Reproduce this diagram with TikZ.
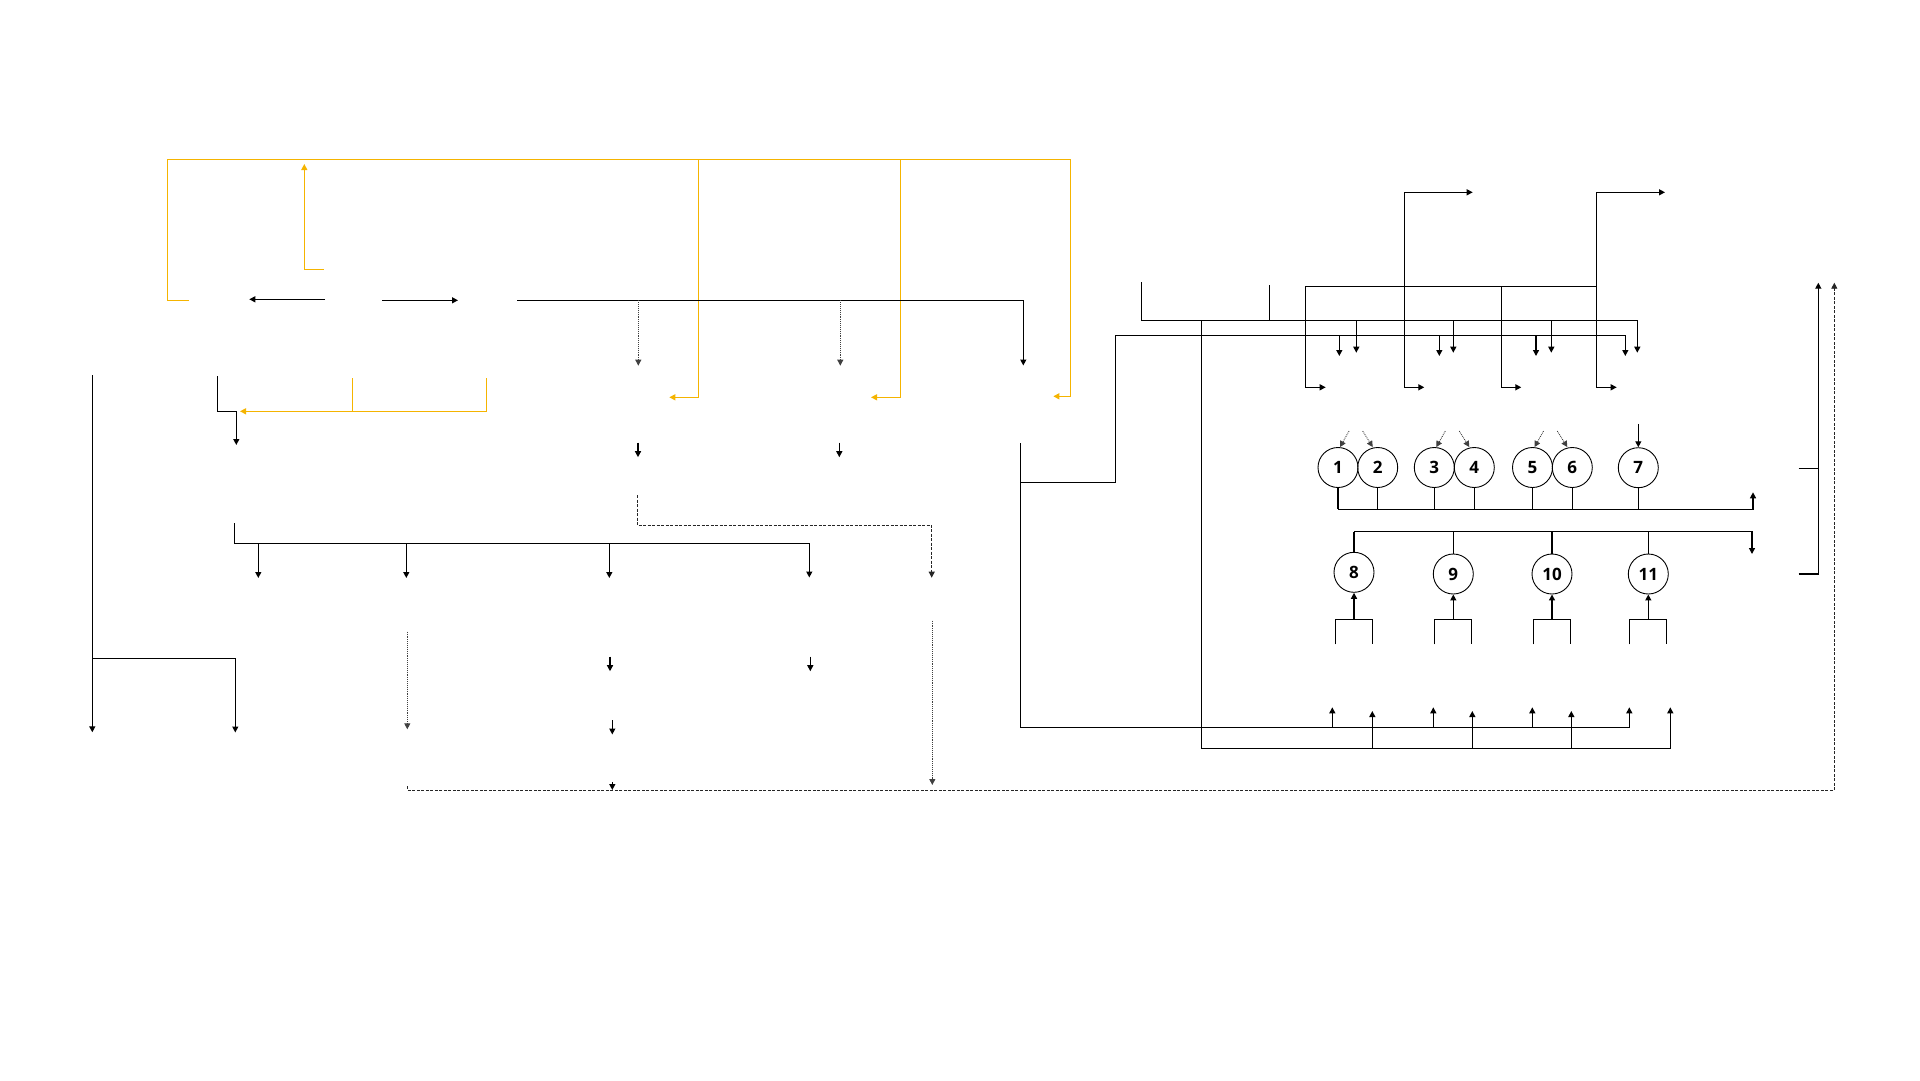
\documentclass[tikz,border=0pt]{standalone}
\usepackage{fontspec}
\setmainfont{Open Sans}
\usepackage{tikz}
\usetikzlibrary{arrows.meta}
\definecolor{loopamber}{HTML}{F5B400}

\begin{document}
\begin{tikzpicture}[x=1pt, y=-1pt, >={Triangle[length=6pt,width=6pt]},
    flow/.style={black, line width=1.3pt},
    ret/.style={loopamber, line width=1.3pt},
    faint/.style={black!75, line width=0.9pt, densely dotted},
    dashline/.style={black!85, line width=0.9pt, dash pattern=on 3pt off 1.5pt},
    unit/.style={circle, draw, line width=0.9pt, minimum size=40pt, inner sep=0pt,
        font=\fontsize{17}{17}\selectfont\bfseries}]
    \useasboundingbox (0,0) rectangle (1920,1080);

    % Return loop (amber)
    \draw[ret,->] (189,300.3) -- (167.3,300.3) -- (167.3,159.3) -- (1070.3,159.3)
        -- (1070.3,396.3) -- (1053.3,396.3);
    \draw[ret,->] (698.3,159.3) -- (698.3,397.3) -- (669.3,397.3);
    \draw[ret,->] (900.3,159.3) -- (900.3,397.3) -- (871,397.3);
    \draw[ret,->] (324,269.3) -- (304.3,269.3) -- (304.3,164);
    \draw[ret,->] (486.3,378) -- (486.3,411.3) -- (240,411.3);
    \draw[ret] (352.3,378) -- (352.3,411.3);

    % Top row
    \draw[flow,->] (325,299.3) -- (249.3,299.3);
    \draw[flow,->] (382,300.3) -- (458,300.3);
    \draw[flow,->] (517,300.3) -- (1023.3,300.3) -- (1023.3,365.5);
    \draw[faint,->] (638.3,300.3) -- (638.3,365.7);
    \draw[faint,->] (840.3,300.3) -- (840.3,365.7);

    % Left column
    \draw[flow,->] (217.3,376) -- (217.3,411.3) -- (236.3,411.3) -- (236.3,445);
    \draw[flow,->] (92.3,375) -- (92.3,732.3);
    \draw[flow,->] (92.3,658.3) -- (235.3,658.3) -- (235.3,732.5);

    % Middle bus
    \draw[flow,->] (234.3,523) -- (234.3,543.5) -- (809.3,543.5) -- (809.3,577.5);
    \foreach \x in {258.3,406.3,609.3}
        \draw[flow,->] (\x,543.5) -- (\x,578);
    \foreach \x/\y in {638/442.7, 839.3/442.7, 610/656.7, 810.3/656.7, 612.3/720}
        \draw[flow,->] (\x,\y) -- ++(0,14.5);
    \draw[flow,->] (612.3,782) -- (612.3,790);
    \draw[dashline,->] (637.3,495) -- (637.3,525.3) -- (931.7,525.3) -- (931.7,577.7);
    \draw[faint,->] (407.3,631.7) -- (407.3,729.3);
    \draw[faint,->] (932.3,620.7) -- (932.3,785);
    \draw[dashline,->] (407.3,786) -- (407.3,790) -- (1834.3,790) -- (1834.3,282.7);

    % Right header lines
    \draw[flow,->] (1141.7,282.3) -- (1141.7,320.3) -- (1637.3,320.3) -- (1637.3,352.7);
    \draw[flow] (1269.3,285) -- (1269.3,320.3);
    \foreach \x in {1356.3,1453.3,1551.3}
        \draw[flow,->] (\x,320.3) -- (\x,352.7);
    \draw[flow,->] (1020.7,482.3) -- (1115.3,482.3) -- (1115.3,335.3) -- (1625.3,335.3)
        -- (1625.3,356);
    \foreach \x in {1339.3,1439.3,1536}
        \draw[flow,->] (\x,335.3) -- (\x,356);
    \draw[flow] (1305.7,286.3) -- (1596.3,286.3);
    \draw[flow,->] (1305.7,286.3) -- (1305.7,387.3) -- (1325.7,387.3);
    \draw[flow,->] (1501.3,286.3) -- (1501.3,387.3) -- (1521.3,387.3);
    \draw[flow,<->] (1424.3,387.3) -- (1404.3,387.3) -- (1404.3,192.3) -- (1472.7,192.3);
    \draw[flow,<->] (1616.7,387.3) -- (1596.3,387.3) -- (1596.3,192.3) -- (1665,192.3);

    % Bottom buses
    \draw[flow,->] (1020.7,443.3) -- (1020.7,727.3) -- (1629.3,727.3) -- (1629.3,707.3);
    \draw[flow,->] (1201.3,320.3) -- (1201.3,748.3) -- (1670.3,748.3) -- (1670.3,707.3);
    \foreach \x in {1332.3,1433.3,1532.3}
        \draw[flow,->] (\x,727.3) -- (\x,707.3);
    \foreach \x in {1372.3,1472.3,1571.3}
        \draw[flow,->] (\x,748.3) -- (\x,711);

    % Units
    \node[unit] (c1) at (1338,467.5) {1};
    \node[unit] (c2) at (1377.7,467.5) {2};
    \node[unit] (c3) at (1434.3,467.5) {3};
    \node[unit] (c4) at (1474.3,467.5) {4};
    \node[unit] (c5) at (1532.5,467.5) {5};
    \node[unit] (c6) at (1572.3,467.5) {6};
    \node[unit] (c7) at (1638.3,467.7) {7};
    \node[unit] (c8) at (1354,572.3) {8};
    \node[unit] (c9) at (1453.3,574) {9};
    \node[unit] (c10) at (1552,574) {10};
    \node[unit] (c11) at (1648.3,574) {11};

    % Feeds into the upper units
    \foreach \i in {1,3,5}
        \draw[faint,->] ([shift={(11,-16)}]c\i.north) -- ([xshift=2pt]c\i.north);
    \foreach \i in {2,4,6}
        \draw[faint,->] ([shift={(-15,-16)}]c\i.north) -- ([xshift=-5pt]c\i.north);
    \draw[flow,->] ([shift={(0,-23.5)}]c7.north) -- (c7.north);

    % Collector buses
    \coordinate (busA) at (1753,509.3);
    \coordinate (busB) at (1752,531.5);
    \coordinate (feedrow) at (0,619.3);
    \foreach \i in {1,...,7}
        \draw[flow] (c\i.south) -- (c\i.south |- busA);
    \draw[flow,->] (c1.south |- busA) -- (busA) -- ++(0,-17);
    \foreach \i in {8,...,11}
        \draw[flow] (c\i.north) -- (c\i.north |- busB);
    \draw[flow,->] (c8.north |- busB) -- (busB) -- ++(0,22.5);

    % Feeds into the lower units
    \foreach \i in {8,...,11} {
        \draw[flow,->] (c\i.south |- feedrow) -- (c\i.south);
        \draw[flow] (c\i.south |- feedrow) ++(-18.5,25) -- ++(0,-25) -- ++(37,0) -- ++(0,25);
    }

    % Right bracket
    \draw[flow] (1798.7,468.3) -- (1818.3,468.3);
    \draw[flow,->] (1798.7,574) -- (1818.3,574) -- (1818.3,282.7);
\end{tikzpicture}
\end{document}
